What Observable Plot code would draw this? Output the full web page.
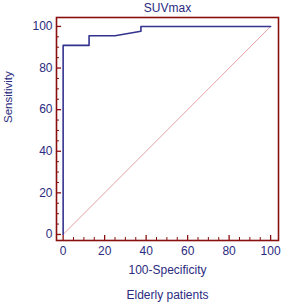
<!DOCTYPE html>
<html><head><meta charset="utf-8">
<script src="https://cdn.jsdelivr.net/npm/d3@7"></script>
<script src="https://cdn.jsdelivr.net/npm/@observablehq/plot@0.6"></script>
<style>body{margin:0;background:#fff}</style>
</head><body><div id="chart"></div>
<script>
const fpr = [0, 0, 12.5, 12.5, 25, 37.5, 37.5, 100];
const sens = [0, 90.9, 90.9, 95.5, 95.5, 97.7, 100, 100];
const diagX = [0, 100];
const diagY = [0, 100];
const majorTicks = [0, 20, 40, 60, 80, 100];
const minorTicks = d3.range(0, 101, 5).filter(v => v % 20 !== 0);
const title = "SUVmax";
const xLabel = "100-Specificity";
const yLabel = "Sensitivity";
const caption = "Elderly patients";

const roc = fpr.map((x, i) => ({x, y: sens[i]}));
const diag = diagX.map((x, i) => ({x, y: diagY[i]}));
const txt = "#2b2b80", red = "#8a1010";
const W = 282, H = 303, mL = 56, mR = 4, mT = 17, mB = 63;
const pw = W - mL - mR, ph = H - mT - mB;

const chart = Plot.plot({
  width: W, height: H,
  marginLeft: mL, marginRight: mR, marginTop: mT, marginBottom: mB,
  style: {fontFamily: "Liberation Sans, Arial, sans-serif", fontSize: "12px", color: txt, background: "#fff"},
  x: {domain: [-3.2, 103.8]},
  y: {domain: [-2.9, 104.3]},
  marks: [
    Plot.line(diag, {x: "x", y: "y", stroke: "#e3a3a3", strokeWidth: 1}),
    Plot.line(roc, {x: "x", y: "y", stroke: "#33338f", strokeWidth: 1.6}),
    Plot.tickX(majorTicks, {x: d => d, stroke: red, strokeWidth: 1.3, insetTop: ph - 5}),
    Plot.tickX(minorTicks, {x: d => d, stroke: red, strokeWidth: 1, insetTop: ph - 3}),
    Plot.tickY(majorTicks, {y: d => d, stroke: red, strokeWidth: 1.3, insetRight: pw - 5}),
    Plot.tickY(minorTicks, {y: d => d, stroke: red, strokeWidth: 1, insetRight: pw - 3}),
    Plot.axisX(majorTicks, {tickSize: 0, tickPadding: 6, label: null, fill: txt, fontSize: 12}),
    Plot.axisY(majorTicks, {tickSize: 0, tickPadding: 4, label: null, fill: txt, fontSize: 12}),
    Plot.frame({stroke: red, strokeWidth: 1.6}),
    Plot.text([title], {frameAnchor: "top", lineAnchor: "middle", dy: -9, text: d => d, fill: txt, fontSize: 12}),
    Plot.text([xLabel], {frameAnchor: "bottom", lineAnchor: "middle", dy: 30, text: d => d, fill: txt, fontSize: 12}),
    Plot.text([caption], {frameAnchor: "bottom", lineAnchor: "middle", dy: 55, text: d => d, fill: txt, fontSize: 12}),
    Plot.text([yLabel], {frameAnchor: "left", dx: -48, dy: -6, rotate: -90, text: d => d, fill: txt, fontSize: 11.5})
  ]
});
document.getElementById("chart").append(chart);
</script></body></html>
